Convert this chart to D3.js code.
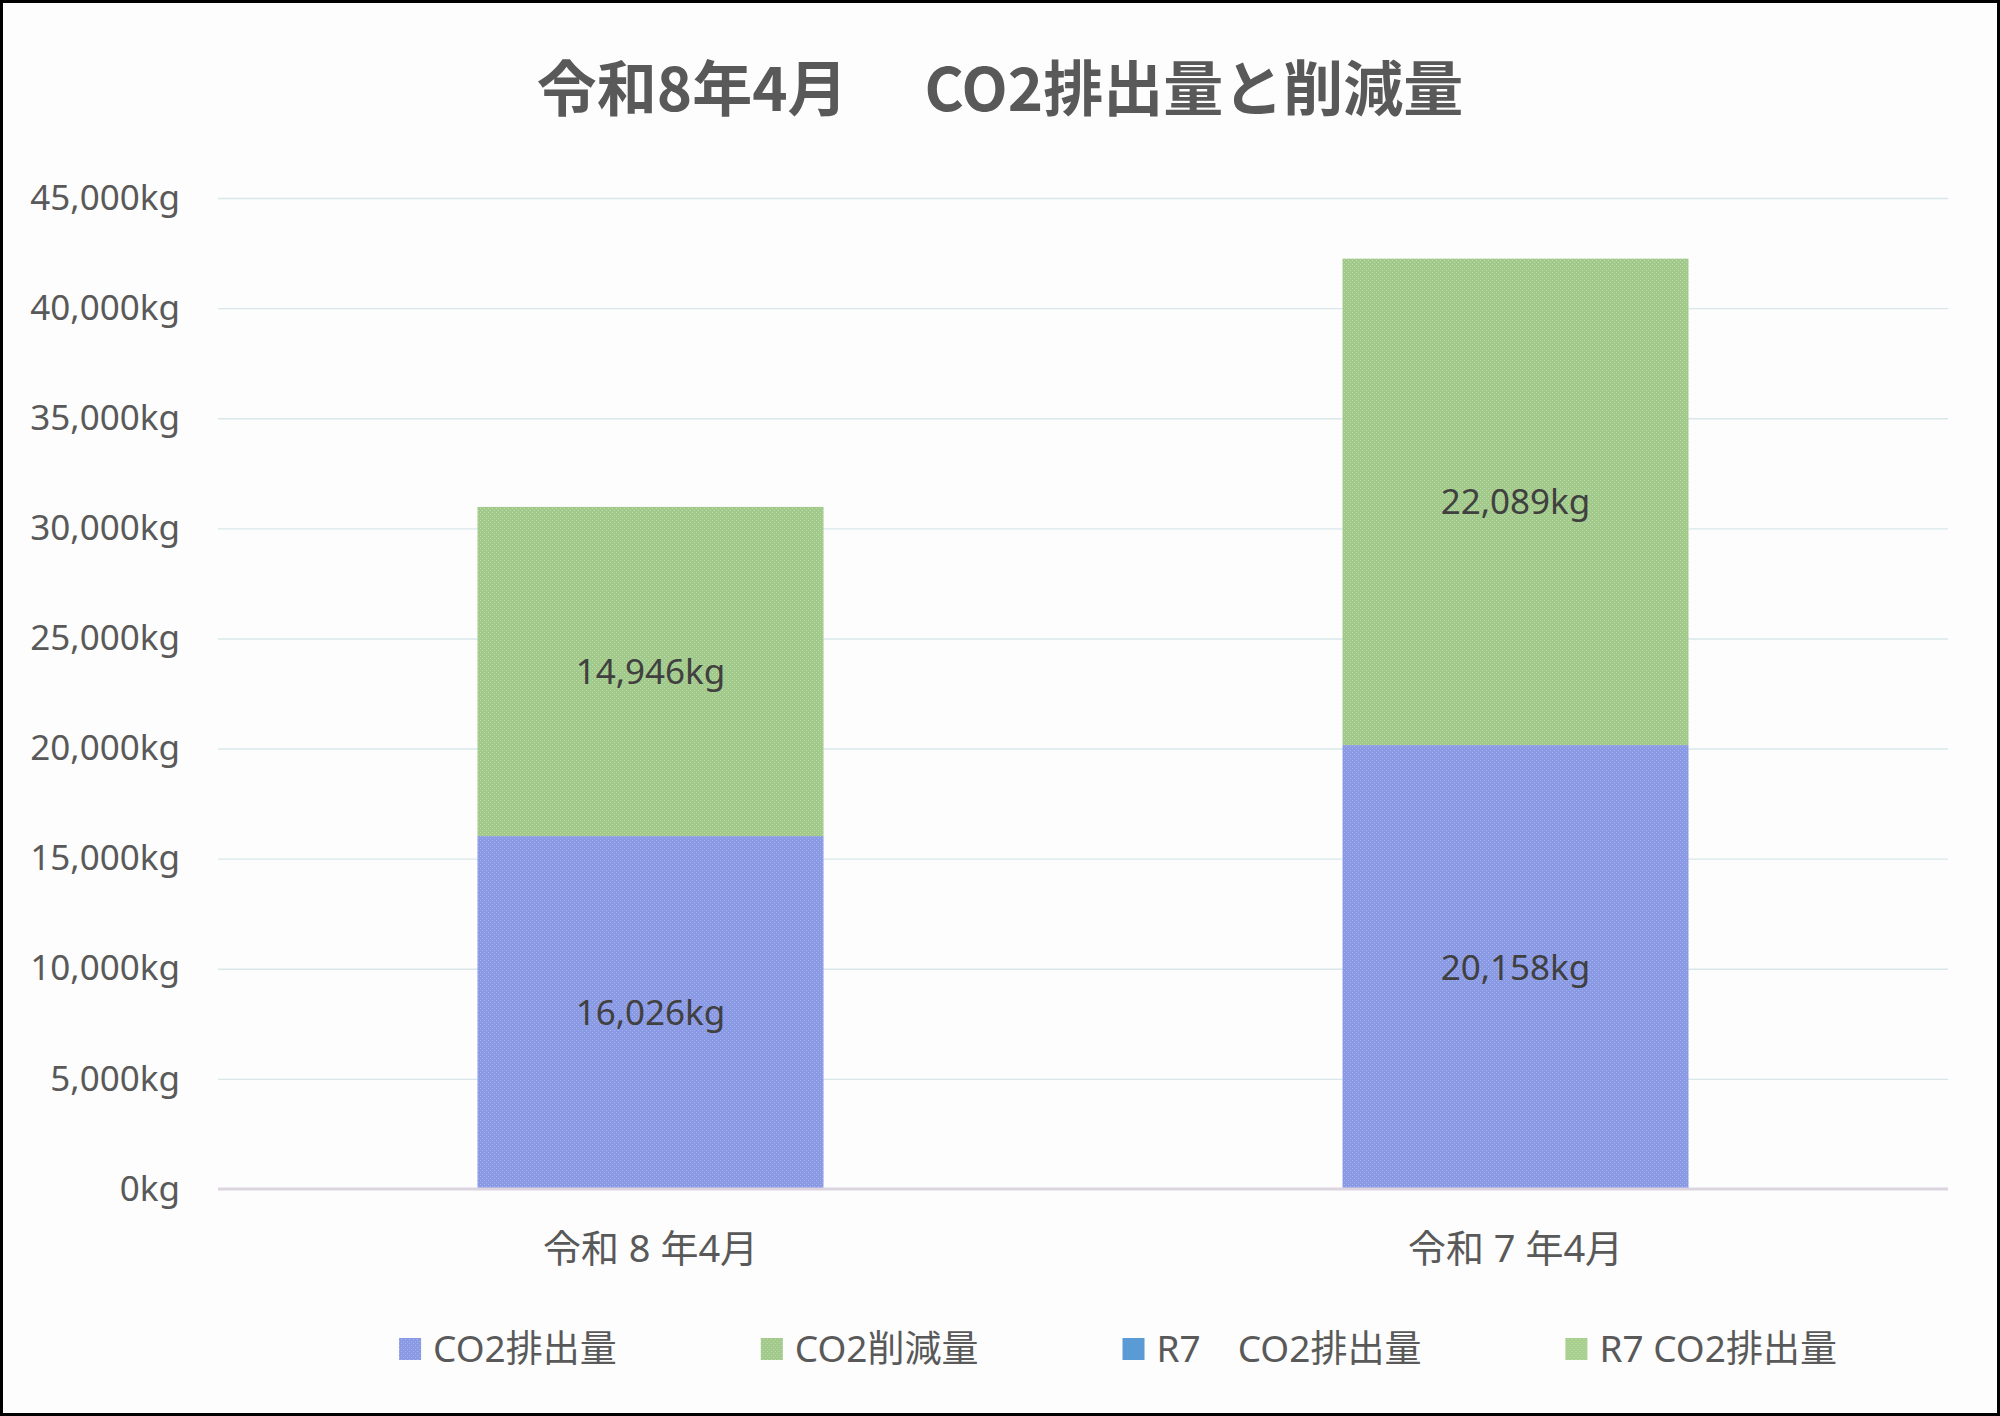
<!DOCTYPE html>
<html>
<head>
<meta charset="utf-8">
<script src="https://cdn.jsdelivr.net/npm/d3@7"></script>
<style>
  html, body { margin: 0; padding: 0; background: #fff; }
  svg { display: block; }
  text { font-family: "Noto Sans", "Noto Sans CJK JP", sans-serif; }
</style>
</head>
<body>
<div id="chart"></div>
<script>
// chart values
const categories = ['令和 8 年4月', '令和 7 年4月'];
const emissions = [16026, 20158];   // CO2排出量
const reductions = [14946, 22089];  // CO2削減量
const legendNames = ['CO2排出量', 'CO2削減量', 'R7　CO2排出量', 'R7 CO2排出量'];
const legendColors = ['url(#patBlue)', 'url(#patGreen)', '#5b9bd5', 'url(#patGreen2)'];
const yTicks = [0, 5000, 10000, 15000, 20000, 25000, 30000, 35000, 40000, 45000];
const titleParts = ['令和8年4月', 'CO2排出量と削減量'];

const width = 2000;
const height = 1416;
const margin = { top: 198, right: 52, bottom: 227, left: 218 };

const svg = d3.select('#chart')
  .append('svg')
  .attr('width', width)
  .attr('height', height);

// patterns to imitate the dotted fill of the bars
const defs = svg.append('defs');
function makePattern(id, base, dot) {
  const p = defs.append('pattern')
    .attr('id', id)
    .attr('width', 4)
    .attr('height', 4)
    .attr('patternUnits', 'userSpaceOnUse');
  p.append('rect').attr('width', 4).attr('height', 4).attr('fill', base);
  p.append('rect').attr('x', 0).attr('y', 0).attr('width', 1).attr('height', 1).attr('fill', dot);
  p.append('rect').attr('x', 2).attr('y', 2).attr('width', 1).attr('height', 1).attr('fill', dot);
}
makePattern('patBlue', '#8a99e4', '#aab7ee');
makePattern('patGreen', '#a1c98c', '#c2dca6');
makePattern('patGreen2', '#a7cf8e', '#c2dca6');

// background + frame
svg.append('rect')
  .attr('x', 1.5).attr('y', 1.5)
  .attr('width', width - 3).attr('height', height - 3)
  .attr('fill', '#fdfdfd')
  .attr('stroke', '#000')
  .attr('stroke-width', 3);

// title
const title = svg.append('text')
  .attr('x', width / 2)
  .attr('y', 89)
  .attr('dy', '0.36em')
  .attr('text-anchor', 'middle')
  .attr('fill', '#595959')
  .style('font-family', '"Noto Sans CJK JP", sans-serif')
  .style('font-weight', 'bold')
  .style('font-size', '60px');
title.append('tspan').text(titleParts[0]);
title.append('tspan').attr('dx', 77).text(titleParts[1]);

// scales
const x = d3.scaleBand()
  .domain(categories)
  .range([margin.left, width - margin.right])
  .paddingInner(0.6)
  .paddingOuter(0.3);

const y = d3.scaleLinear()
  .domain([0, 45000])
  .range([height - margin.bottom, margin.top]);

// gridlines
svg.append('g')
  .attr('class', 'gridlines')
  .attr('transform', `translate(${margin.left}, 0)`)
  .call(d3.axisLeft(y).tickValues(yTicks.filter(d => d > 0)).tickFormat('').tickSize(-(width - margin.left - margin.right)))
  .call(g => g.select('.domain').remove())
  .call(g => g.selectAll('line').attr('stroke', '#d9e7eb').attr('stroke-width', 1.4));

// y axis labels
svg.append('g')
  .attr('transform', `translate(${margin.left}, 0)`)
  .call(d3.axisLeft(y).tickValues(yTicks).tickFormat(d => d3.format(',')(d) + 'kg').tickSize(0).tickPadding(38))
  .call(g => g.select('.domain').remove())
  .call(g => g.selectAll('text')
    .attr('fill', '#595959')
    .style('font-size', '35px'));

// stacked bars
const table = categories.map((c, i) => ({ category: c, emission: emissions[i], reduction: reductions[i] }));
const keys = ['emission', 'reduction'];
const fills = { emission: 'url(#patBlue)', reduction: 'url(#patGreen)' };
const series = d3.stack().keys(keys)(table);

const layers = svg.append('g')
  .selectAll('g')
  .data(series)
  .join('g')
  .attr('fill', d => fills[d.key]);

layers.selectAll('rect')
  .data(d => d)
  .join('rect')
  .attr('x', d => x(d.data.category))
  .attr('y', d => y(d[1]))
  .attr('width', x.bandwidth())
  .attr('height', d => y(d[0]) - y(d[1]));

// data labels
layers.selectAll('text')
  .data(d => d)
  .join('text')
  .attr('x', d => x(d.data.category) + x.bandwidth() / 2)
  .attr('y', d => (y(d[0]) + y(d[1])) / 2)
  .attr('dy', '0.36em')
  .attr('text-anchor', 'middle')
  .attr('fill', '#404040')
  .style('font-size', '35px')
  .text(d => d3.format(',')(d[1] - d[0]) + 'kg');

// baseline
svg.append('line')
  .attr('x1', margin.left)
  .attr('x2', width - margin.right)
  .attr('y1', y(0))
  .attr('y2', y(0))
  .attr('stroke', '#dcd5e0')
  .attr('stroke-width', 3);

// x axis labels
svg.append('g')
  .attr('transform', `translate(0, ${y(0)})`)
  .call(d3.axisBottom(x).tickSize(0))
  .call(g => g.select('.domain').remove())
  .call(g => g.selectAll('text')
    .attr('y', 59)
    .attr('dy', '0.36em')
    .attr('fill', '#595959')
    .style('font-size', '38px'));

// legend
const legend = svg.append('g').attr('transform', 'translate(0, 1349)');
const items = legend.selectAll('g')
  .data(legendNames)
  .join('g');

items.append('rect')
  .attr('y', -11)
  .attr('width', 22)
  .attr('height', 22)
  .attr('fill', (d, i) => legendColors[i]);

items.append('text')
  .attr('x', 34)
  .attr('dy', '0.36em')
  .attr('fill', '#595959')
  .style('font-size', '37px')
  .text(d => d);

// lay the items out in a row, centred like the original
let offset = 0;
const positions = [];
items.each(function () {
  const w = 34 + this.querySelector('text').getComputedTextLength();
  positions.push(offset);
  offset += w + 144;
});
const total = offset - 144;
const start = 1118 - total / 2;
items.attr('transform', (d, i) => `translate(${start + positions[i]}, 0)`);
</script>
</body>
</html>
